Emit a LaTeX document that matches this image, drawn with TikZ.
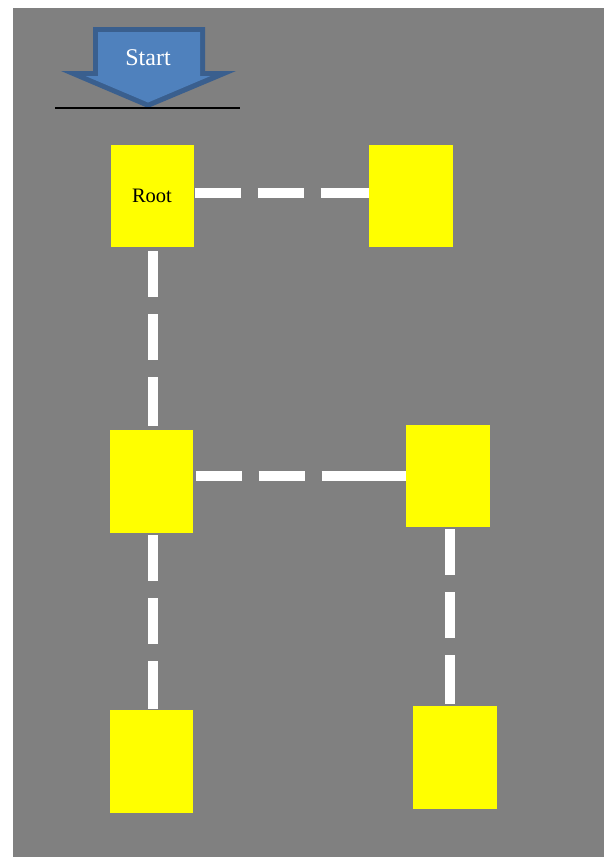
\documentclass[tikz,border=0pt]{standalone}
\usepackage{fontspec}
\setmainfont{Liberation Serif}
\definecolor{bggray}{RGB}{128,128,128}
\definecolor{boxyellow}{RGB}{255,255,0}
\definecolor{arrowfill}{RGB}{79,129,189}
\definecolor{arrowline}{RGB}{58,95,142}
\tikzset{
  box/.style={fill=boxyellow, draw=none, minimum width=83pt, minimum height=102pt, inner sep=0pt, font=\fontsize{20.5}{24}\selectfont},
  link/.style={draw=white, line width=10pt, line cap=butt, dash pattern=on 46pt off 17pt on 46pt off 17pt on 400pt}
}
\begin{document}
\begin{tikzpicture}[x=1pt,y=-1pt]
\useasboundingbox (0,0) rectangle (604,857);
\fill[bggray] (13,8) rectangle (604,857);
% start arrow: outer border shape, then inner fill
\fill[arrowline]
  (93,27) -- (205,27) -- (205,71) -- (236,71) -- (148,108) -- (61,71) -- (93,71) -- cycle;
\fill[arrowfill]
  (98,32) -- (200,32) -- (200,76) -- (210.5,76) -- (148,102.5) -- (85.5,76) -- (98,76) -- cycle;
\node[text=white, font=\fontsize{24}{28}\selectfont, inner sep=0pt] (start) at (148,58) {Start};
\coordinate (bl0) at (55,108.3);
\coordinate (br0) at (240,108.3);
\draw[black, line width=2pt] (bl0) -- (br0);
% boxes
\node[box] (root) at (152,196) {Root};
\node[box, minimum width=84pt] (tr) at (411,196) {};
\node[box, minimum height=103pt] (ml) at (151.5,481.5) {};
\node[box, minimum width=84pt] (mr) at (448,476) {};
\node[box, minimum height=103pt] (bl) at (151.5,761.5) {};
\node[box, minimum width=84pt, minimum height=103pt] (br) at (455,757.5) {};
% connectors
\draw[link, shorten <=1pt] ([yshift=3pt]root.east) -- ([yshift=3pt]tr.west);
\draw[link, shorten <=4pt, shorten >=4pt] ([xshift=1pt]root.south) -- ([xshift=1pt]root.south |- ml.north);
\draw[link, shorten <=2.5pt] (mr.west -| ml.east) -- (mr.west);
\draw[link, shorten <=2pt, shorten >=2pt] ([xshift=2pt]mr.south) -- ([xshift=2pt]mr.south |- br.north);
\draw[link, shorten <=2pt, shorten >=1pt] ([xshift=1.5pt]ml.south) -- ([xshift=1.5pt]ml.south |- bl.north);
\end{tikzpicture}
\end{document}
